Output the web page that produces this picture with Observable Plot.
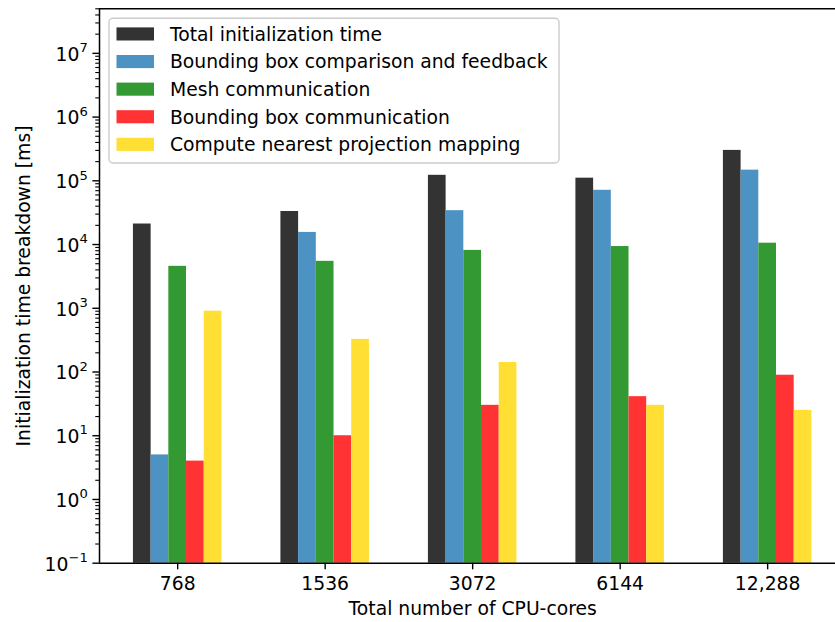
<!DOCTYPE html>
<html>
<head>
<meta charset="utf-8">
<script src="https://cdn.jsdelivr.net/npm/d3@7"></script>
<script src="https://cdn.jsdelivr.net/npm/@observablehq/plot@0.6"></script>
<style>
  html, body { margin: 0; padding: 0; background: #fff; overflow: hidden; }
  svg { display: block; }
</style>
</head>
<body>
<div id="chart"></div>
<script>
// Core counts on the x axis
const cores = ["768", "1536", "3072", "6144", "12,288"];

// Breakdown series, in drawing order
const seriesNames = [
  "Total initialization time",
  "Bounding box comparison and feedback",
  "Mesh communication",
  "Bounding box communication",
  "Compute nearest projection mapping"
];
const seriesColors = ["#333333", "#4c92c3", "#339933", "#ff3333", "#ffdf33"];

// Times in milliseconds, one value per core count
const totalTime    = [21000, 33000, 122000, 110000, 300000];
const bboxCompare  = [5, 15500, 34000, 71000, 147000];
const meshComm     = [4550, 5450, 8100, 9300, 10500];
const bboxComm     = [4, 10, 30, 41, 89];
const nearestMap   = [900, 325, 141, 30, 25];

// Axis setup
const yMajorTicks = [1e-1, 1e0, 1e1, 1e2, 1e3, 1e4, 1e5, 1e6, 1e7];
const yDomain = [0.1, 5e7];
const xDomain = [-0.53, 4.46];
const xLabel = "Total number of CPU-cores";
const yLabel = "Initialization time breakdown [ms]";

const seriesValues = [totalTime, bboxCompare, meshComm, bboxComm, nearestMap];
const rows = cores.flatMap((core, i) =>
  seriesValues.map((vals, j) => ({core, i, j, series: seriesNames[j], value: vals[i]}))
);

const groupWidth = 0.6;
const barWidth = groupWidth / seriesNames.length;

const exponentText = v => String(Math.round(Math.log10(v))).replace("-", "\u2212");

const yMinorTicks = d3.range(-1, 8)
  .flatMap(k => d3.range(2, 10).map(m => +(m * Math.pow(10, k)).toPrecision(3)))
  .filter(v => v <= yDomain[1]);

const fontSize = 18.75;
const supSize = fontSize * 0.7;
const tickLen = 6.6;
const ink = "#000";

// Power-of-ten labels with a raised exponent, placed through the y scale
function yPowerLabels(index, scales, values, dims) {
  const g = d3.create("svg:g")
    .attr("font-family", "'DejaVu Sans', sans-serif")
    .attr("font-size", fontSize)
    .attr("text-anchor", "end")
    .attr("fill", ink);
  for (const v of yMajorTicks) {
    const t = g.append("text")
      .attr("x", dims.marginLeft - tickLen - 4.6)
      .attr("y", scales.y(v))
      .attr("dy", 7.8);
    t.append("tspan").text("10");
    t.append("tspan")
      .attr("font-size", supSize)
      .attr("dy", -8.6)
      .text(exponentText(v));
  }
  return g.node();
}

// Legend box drawn inside the plotting frame
function legend(index, scales, values, dims) {
  const g = d3.create("svg:g")
    .attr("font-family", "'DejaVu Sans', sans-serif")
    .attr("font-size", fontSize)
    .attr("text-anchor", "start");
  const left = dims.marginLeft + 10;
  const top = dims.marginTop + 10;
  g.append("rect")
    .attr("x", left).attr("y", top)
    .attr("width", 450).attr("height", 144.7)
    .attr("rx", 4).attr("ry", 4)
    .attr("fill", "#fff").attr("fill-opacity", 0.8)
    .attr("stroke", "#cccccc").attr("stroke-width", 1.4);
  seriesNames.forEach((name, k) => {
    const cy = top + 15.7 + k * 27.6;
    g.append("rect")
      .attr("x", left + 7.5).attr("y", cy - 6.6)
      .attr("width", 37.5).attr("height", 13.1)
      .attr("fill", seriesColors[k]);
    g.append("text")
      .attr("x", left + 61).attr("y", cy)
      .attr("dy", "0.36em")
      .attr("fill", ink)
      .text(name);
  });
  return g.node();
}

const chart = Plot.plot({
  width: 835,
  height: 622,
  marginLeft: 99,
  marginRight: 0,
  marginTop: 8.3,
  marginBottom: 59.3,
  style: {fontFamily: "'DejaVu Sans', sans-serif", fontSize: `${fontSize}px`, color: ink, background: "#fff"},
  x: {type: "linear", domain: xDomain},
  y: {type: "log", domain: yDomain},
  color: {domain: seriesNames, range: seriesColors},
  marks: [
    Plot.rectY(rows, {
      x1: d => d.i - groupWidth / 2 + d.j * barWidth,
      x2: d => d.i - groupWidth / 2 + (d.j + 1) * barWidth,
      y1: () => yDomain[0],
      y2: "value",
      fill: "series"
    }),
    Plot.axisY({ticks: yMinorTicks, tickFormat: () => "", tickSize: 3.75, tickPadding: 0, label: null, stroke: ink, strokeWidth: 1.1}),
    Plot.axisY({ticks: yMajorTicks, tickFormat: () => "", tickSize: tickLen, tickPadding: 0, label: null, stroke: ink, strokeWidth: 1.4}),
    yPowerLabels,
    Plot.axisX({ticks: d3.range(cores.length), tickFormat: i => cores[i], tickSize: tickLen, tickPadding: 6.6, label: null, stroke: ink, strokeWidth: 1.4, fill: ink}),
    Plot.ruleY([yDomain[0]], {stroke: ink, strokeWidth: 1.5}),
    Plot.ruleY([yDomain[1]], {stroke: ink, strokeWidth: 1.5}),
    Plot.ruleX([xDomain[0]], {stroke: ink, strokeWidth: 1.5}),
    Plot.text([xLabel], {x: () => (cores.length - 1) / 2, frameAnchor: "bottom", dy: 46, lineAnchor: "middle", textAnchor: "middle", text: d => d, fill: ink, fontSize}),
    Plot.text([yLabel], {frameAnchor: "left", dx: -76, rotate: -90, lineAnchor: "middle", textAnchor: "middle", text: d => d, fill: ink, fontSize}),
    legend
  ]
});

document.getElementById("chart").appendChild(chart);
</script>
</body>
</html>
